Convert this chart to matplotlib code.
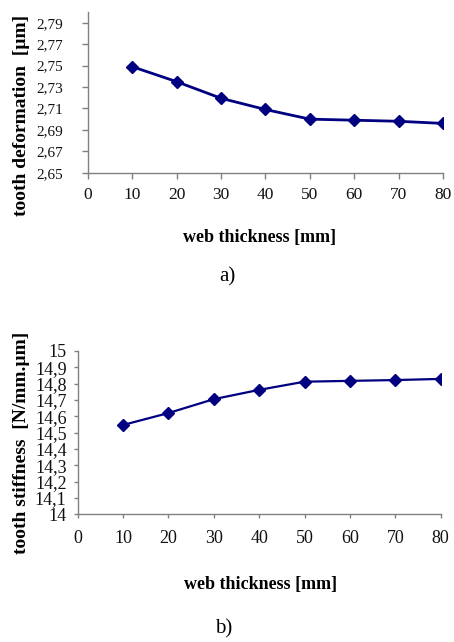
import matplotlib
matplotlib.use("Agg")
import matplotlib.pyplot as plt

# =========================
# DATA
# =========================
web_thickness = [10, 20, 30, 40, 50, 60, 70, 80]
deformation = [2.749, 2.735, 2.7195, 2.709, 2.700, 2.699, 2.698, 2.696]
stiffness = [14.547, 14.62, 14.705, 14.762, 14.812, 14.817, 14.822, 14.829]

x_ticks = [0, 10, 20, 30, 40, 50, 60, 70, 80]
def_ticks = [2.65, 2.67, 2.69, 2.71, 2.73, 2.75, 2.77, 2.79]
stiff_ticks = [14.0, 14.1, 14.2, 14.3, 14.4, 14.5, 14.6, 14.7, 14.8, 14.9, 15.0]

plt.rcParams["font.family"] = ["Liberation Serif", "DejaVu Serif"]

LINE_COLOR = "#000080"
AXIS_COLOR = "#808080"
W, H = 454, 642


def style_axes(ax, tick_len, ypad, xpad, ysize, xsize):
    for side in ["top", "right"]:
        ax.spines[side].set_visible(False)
    for side in ["left", "bottom"]:
        ax.spines[side].set_color(AXIS_COLOR)
        ax.spines[side].set_linewidth(1.0)
    ax.tick_params(direction="out", length=tick_len, width=1.0, color=AXIS_COLOR,
                   labelcolor="#111111")
    ax.tick_params(axis="y", labelsize=ysize, pad=ypad)
    ax.tick_params(axis="x", labelsize=xsize, pad=xpad)


def comma(v, decimals):
    return f"{v:.{decimals}f}".replace(".", ",")


def px_text(x, y, s, **kw):
    # place text by pixel position (from top-left)
    fig.text(x / W, 1 - y / H, s, ha="center", va="center", **kw)


fig = plt.figure(figsize=(4.54, 6.42), dpi=100)

# =========================
# a) TOOTH DEFORMATION
# =========================
ax1 = fig.add_axes([0.1932, 0.731, 0.7826, 0.2503])
ax1.plot(web_thickness, deformation, color=LINE_COLOR, lw=2.0,
         marker="D", markersize=6.5, markerfacecolor=LINE_COLOR,
         markeredgecolor=LINE_COLOR)
ax1.set_xlim(0, 80)
ax1.set_ylim(2.65, 2.80)
ax1.set_xticks(x_ticks)
ax1.set_yticks(def_ticks)
ax1.set_yticklabels([comma(v, 2) for v in def_ticks])
style_axes(ax1, tick_len=4, ypad=14, xpad=6, ysize=11, xsize=12.5)
px_text(22, 115, "tooth deformation  [\u00b5m]", rotation=90, fontsize=14, fontweight="bold")
px_text(260, 238, "web thickness [mm]", fontsize=13, fontweight="bold")
px_text(227, 277, "a)", fontsize=15)

# =========================
# b) TOOTH STIFFNESS
# =========================
ax2 = fig.add_axes([0.1711, 0.1989, 0.7996, 0.2544])
ax2.plot(web_thickness, stiffness, color=LINE_COLOR, lw=1.6,
         marker="D", markersize=6.5, markerfacecolor=LINE_COLOR,
         markeredgecolor=LINE_COLOR)
ax2.set_xlim(0, 80)
ax2.set_ylim(14.0, 15.0)
ax2.set_xticks(x_ticks)
ax2.set_yticks(stiff_ticks)
ax2.set_yticklabels([comma(v, 1).replace(",0", "") for v in stiff_ticks])
style_axes(ax2, tick_len=3, ypad=5, xpad=8, ysize=13, xsize=13)
px_text(22, 443, "tooth stiffness  [N/mm.\u00b5m]", rotation=90, fontsize=14, fontweight="bold")
px_text(261, 585, "web thickness [mm]", fontsize=13, fontweight="bold")
px_text(224, 629, "b)", fontsize=15)

fig.savefig("out.png", dpi=100)
